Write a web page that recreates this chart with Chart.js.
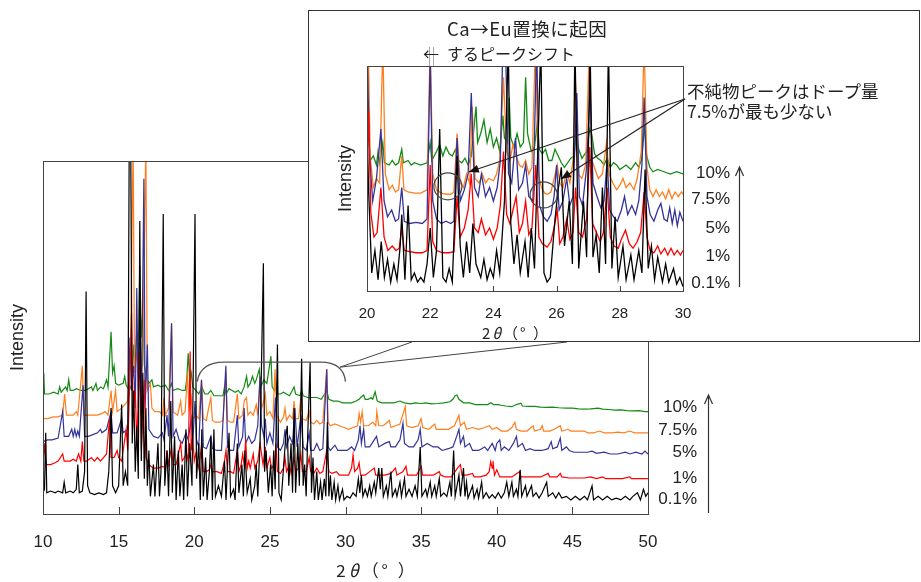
<!DOCTYPE html>
<html>
<head>
<meta charset="utf-8">
<script src="https://cdn.jsdelivr.net/npm/chart.js@4.4.1/dist/chart.umd.min.js"></script>
<style>
body { margin: 0; background: #fff; width: 921px; height: 582px; overflow: hidden; position: relative;
       font-family: "Liberation Sans", Arial, sans-serif; color: #222; }
canvas { position: absolute; }
#main { left: 0; top: 0; }
#inset { left: 308px; top: 10px; }
.t { position: absolute; line-height: 1; white-space: nowrap; transform: translateY(-50%); }
.r { transform: translate(-100%, -50%); }
.c { transform: translate(-50%, -50%); }
.jp { font-family: "Noto Sans CJK JP", sans-serif; }
.pct { font-size: 17px; }
</style>
</head>
<body>
<canvas id="main" width="921" height="582"></canvas>
<canvas id="inset" width="612" height="332"></canvas>

<div class="t jp" style="left:447px;top:28px;font-size:18.5px;letter-spacing:0.5px">Ca→Eu置換に起因</div>
<div class="t jp" style="left:423px;top:53px;font-size:16px">←</div>
<div class="t jp" style="left:447px;top:53px;font-size:16px">するピークシフト</div>
<div class="t jp" style="left:687px;top:91px;font-size:17.5px">不純物ピークはドープ量</div>
<div class="t jp" style="left:687px;top:111px;font-size:17.5px">7.5%が最も少ない</div>

<div class="t r pct" style="left:730px;top:172px">10%</div>
<div class="t r pct" style="left:730px;top:198px">7.5%</div>
<div class="t r pct" style="left:730px;top:227px">5%</div>
<div class="t r pct" style="left:730px;top:255px">1%</div>
<div class="t r pct" style="left:730px;top:282px">0.1%</div>

<div class="t r pct" style="left:697px;top:406px">10%</div>
<div class="t r pct" style="left:697px;top:429px">7.5%</div>
<div class="t r pct" style="left:697px;top:451px">5%</div>
<div class="t r pct" style="left:697px;top:477px">1%</div>
<div class="t r pct" style="left:697px;top:498px">0.1%</div>

<div class="t c jp" style="left:516px;top:332px;font-size:15px;letter-spacing:2px">2<i>θ</i>（°&nbsp;）</div>
<div class="t c jp" style="left:377px;top:569px;font-size:17px;letter-spacing:3px">2<i>θ</i>（°&nbsp;）</div>

<script>
// Eu dope amount of each pattern, drawn bottom to top
const dopeLabels = ['0.1%', '1%', '5%', '7.5%', '10%'];
const seriesColors = ['#000000', '#ff0000', '#333399', '#ff7f1e', '#138a13'];

// full range 10-50 deg, [2theta, intensity (offset, arbitrary)]
const mainBlack = [[10.0,6],[10.1,7],[10.18,23],[10.25,6],[10.5,6.5],[10.8,6],[11.0,6.5],[11.3,6],[11.4,9],[11.5,6],[11.8,6.5],[12.0,6],[12.2,7],[12.3,14],[12.4,6],[12.6,6.5],[12.75,12],[12.85,63],[12.95,8],[13.1,6],[13.4,5.5],[13.7,6],[14.0,5.5],[14.2,6],[14.35,12],[14.5,30],[14.6,8],[14.8,6],[15.0,8],[15.2,31],[15.3,8],[15.45,12],[15.6,8],[15.7,105],[15.8,106],[15.9,20],[16.0,35],[16.1,12],[16.2,25],[16.3,10],[16.4,83],[16.5,15],[16.6,40],[16.7,10],[16.8,30],[16.9,8],[17.0,18],[17.1,5],[17.3,14],[17.4,5],[17.6,20],[17.7,5],[17.8,12],[17.95,85],[18.05,8],[18.2,18],[18.3,5],[18.45,32],[18.55,6],[18.7,22],[18.8,4],[18.95,18],[19.05,5],[19.2,14],[19.3,4],[19.45,24],[19.55,5],[19.7,20],[19.85,8],[20.05,85],[20.15,10],[20.3,20],[20.4,4],[20.5,24],[20.6,5],[20.75,16],[20.85,4],[21.0,12],[21.1,22],[21.2,4],[21.3,24],[21.4,5],[21.6,8],[21.8,5],[21.9,10],[22.0,15],[22.1,4],[22.3,23],[22.4,5],[22.6,7],[22.7,4],[22.85,20],[22.95,6],[23.15,14],[23.25,5],[23.35,18],[23.5,6],[23.7,10],[23.8,4],[24.0,8],[24.1,14],[24.2,5],[24.35,20],[24.57,71],[24.65,12],[24.75,18],[24.9,6],[25.05,14],[25.15,5],[25.25,18],[25.35,7],[25.5,48],[25.6,6],[25.75,4],[25.95,16],[26.05,22],[26.15,25],[26.25,8],[26.4,20],[26.5,6],[26.6,30],[26.7,6],[26.85,20],[26.95,8],[27.1,44],[27.2,8],[27.3,14],[27.4,5],[27.5,22],[27.66,43],[27.75,6],[27.85,16],[27.95,4],[28.1,12],[28.2,4],[28.35,9],[28.45,4],[28.6,10],[28.7,5],[28.8,26],[28.9,5],[29.0,11],[29.1,4],[29.25,9],[29.35,4],[29.5,8],[29.6,4],[29.8,7],[29.9,4],[30.1,5],[30.3,4.5],[30.5,6],[30.7,5],[30.85,10],[30.95,6],[31.05,11],[31.15,5],[31.3,7],[31.45,5],[31.6,8],[31.7,5],[31.9,9],[32.0,6],[32.2,13],[32.3,7],[32.4,13],[32.5,5],[32.7,8],[32.8,5],[33.0,12],[33.1,5],[33.3,7],[33.4,5],[33.6,9],[33.7,5],[33.9,10],[34.0,5],[34.2,7],[34.4,5],[34.6,8],[34.75,5],[34.94,19],[35.05,5],[35.3,7],[35.4,5],[35.6,9],[35.7,5],[35.9,8],[36.0,5],[36.2,10],[36.3,5],[36.5,6],[36.7,5],[36.9,9],[37.0,5],[37.15,18],[37.25,5],[37.5,11],[37.6,5],[37.8,13],[37.9,5],[38.0,9],[38.1,4.5],[38.4,8],[38.5,4.5],[38.7,7],[38.8,4.5],[39.0,9],[39.1,4.5],[39.3,6],[39.5,4.5],[39.7,5.5],[39.9,4.5],[40.1,6],[40.3,4.5],[40.5,6],[40.66,9],[40.8,5],[41.0,9],[41.1,5],[41.3,7],[41.4,5],[41.55,12.5],[41.65,5],[41.9,8],[42.0,5],[42.3,8],[42.4,5],[42.6,6],[42.8,4.5],[43.0,6],[43.3,9],[43.4,5],[43.7,6],[43.9,4.5],[44.1,6],[44.3,4.5],[44.6,5],[44.9,4],[45.2,5],[45.5,4],[45.8,5],[46.0,4],[46.3,8],[46.4,4],[46.7,5],[47.0,4],[47.3,5],[47.6,4],[47.9,4.5],[48.2,4],[48.5,5],[48.8,4],[49.0,5],[49.3,6],[49.5,4],[49.7,7],[49.85,5],[50.0,6]];
const mainRed = [[10.0,14],[10.1,20],[10.2,14],[10.5,14],[10.8,14.5],[11.0,15],[11.3,17],[11.4,15],[11.6,15],[11.8,15],[12.0,15.5],[12.2,15],[12.35,17],[12.5,15],[12.6,20.5],[12.7,15],[12.9,15],[13.2,16],[13.4,15],[13.6,16],[13.8,15],[14.0,16],[14.2,17],[14.4,27],[14.5,16],[14.7,16],[14.9,18],[15.0,16],[15.2,15],[15.5,24],[15.6,18],[15.75,40],[15.85,57],[15.95,30],[16.1,35],[16.2,20],[16.4,46],[16.5,18],[16.7,38],[16.8,16],[17.0,14],[17.3,13],[17.6,13],[17.9,13.5],[18.1,13],[18.2,18],[18.3,14],[18.5,19],[18.6,14],[18.8,14],[19.1,20],[19.2,15],[19.5,17],[19.6,15],[19.73,46],[19.8,18],[19.9,22],[20.0,15],[20.1,17],[20.3,13],[20.5,20],[20.6,12],[20.8,12],[21.0,12.5],[21.1,14],[21.2,12],[21.5,12],[21.8,11.5],[22.0,15],[22.1,18],[22.2,12],[22.4,12],[22.6,11.5],[22.85,18],[22.95,12],[23.1,14],[23.2,17],[23.3,14],[23.4,21],[23.5,13],[23.6,15],[23.7,13],[23.9,17],[24.0,13],[24.2,15],[24.35,20],[24.45,17],[24.55,14],[24.7,19],[24.8,13],[25.0,16],[25.1,13],[25.3,14],[25.4,20],[25.5,12],[25.7,11.5],[25.9,13],[26.0,16],[26.1,12],[26.3,14],[26.4,11.5],[26.6,16],[26.7,12],[26.9,13],[27.05,17],[27.15,12],[27.4,12],[27.6,16],[27.7,12],[27.9,11.5],[28.1,13],[28.3,11.5],[28.5,12],[28.76,18],[28.9,12],[29.1,11.5],[29.4,12],[29.6,11],[29.9,11],[30.2,11],[30.4,13],[30.5,16.7],[30.6,12],[30.8,13],[30.9,14.5],[31.0,11],[31.3,11],[31.6,12],[31.9,13],[32.0,11],[32.3,11],[32.6,11],[33.0,11.5],[33.3,13],[33.4,11],[33.8,12],[34.0,13.5],[34.1,11],[34.4,11],[34.7,11],[35.0,13.5],[35.1,11],[35.4,11],[35.8,11],[36.2,12],[36.3,11],[36.6,10.5],[37.0,10.5],[37.4,13],[37.6,14],[37.7,11],[38.0,11],[38.4,11.5],[38.5,10.5],[38.9,10.5],[39.3,11],[39.5,12],[39.6,14.8],[39.7,13],[39.75,15],[39.85,11],[40.0,12.5],[40.2,10.5],[40.6,10.5],[41.0,10.5],[41.5,12],[41.6,10.5],[42.0,10.5],[42.4,10.5],[42.9,10.5],[43.4,11.5],[43.5,10.5],[44.0,10.5],[44.2,11.5],[44.3,10.5],[44.8,10.2],[45.3,10.2],[45.8,10.2],[46.2,10.5],[46.6,10],[47.0,10.5],[47.2,10],[47.7,10],[48.3,10],[48.8,10.5],[48.9,10],[49.4,10],[49.8,10],[50.0,10]];
const mainBlue = [[10.0,20.5],[10.3,21],[10.6,21],[11.0,21.5],[11.3,29],[11.4,22],[11.7,22],[11.9,24],[12.0,22],[12.1,24],[12.2,22],[12.3,23.5],[12.4,22],[12.65,36.5],[12.75,22],[13.0,22],[13.3,22.5],[13.6,23],[13.8,24],[13.9,23],[14.2,24],[14.5,29],[14.6,23],[14.9,23],[15.2,27],[15.3,23],[15.6,24],[15.75,50],[15.85,35],[16.0,42],[16.1,30],[16.2,64],[16.3,30],[16.4,62],[16.5,28],[16.67,95],[16.75,30],[16.9,48],[17.0,24],[17.3,22],[17.6,21.5],[17.9,23],[18.0,21],[18.2,28],[18.3,22],[18.5,54],[18.6,22],[18.8,24],[19.0,21],[19.2,20],[19.45,23],[19.6,21],[19.8,27],[19.9,20],[20.05,32],[20.15,21],[20.3,19],[20.48,38],[20.6,19],[20.8,18.5],[21.1,22],[21.2,18.5],[21.5,18],[21.8,18],[22.09,42],[22.2,19],[22.4,18],[22.6,18],[22.85,28],[22.95,19],[23.2,22],[23.3,30],[23.4,20],[23.6,22],[23.8,20],[24.0,21],[24.2,25],[24.35,39],[24.45,25],[24.6,22],[24.7,27],[24.8,20],[25.0,23],[25.2,20],[25.37,33],[25.5,19],[25.7,18],[25.9,20],[26.0,24],[26.1,19],[26.3,22],[26.5,20],[26.65,30],[26.8,19],[27.06,28],[27.2,19],[27.4,18],[27.6,23],[27.7,18],[27.9,18],[28.1,20],[28.3,18],[28.5,18.5],[28.76,41],[28.85,19],[29.0,18],[29.3,19.5],[29.5,18],[29.8,18],[30.1,18],[30.4,19],[30.6,18],[30.85,21],[30.96,25],[31.05,20],[31.2,24],[31.3,19],[31.6,19],[31.9,21],[32.05,22],[32.2,19],[32.6,20],[32.9,20.5],[33.0,19],[33.3,19],[33.6,21],[33.8,25.7],[33.9,20],[34.2,19],[34.5,19],[34.8,21],[34.94,24],[35.05,19],[35.4,20],[35.8,19],[36.1,19],[36.4,18],[36.8,18.5],[37.1,19],[37.35,22],[37.5,24],[37.6,20],[37.8,22],[37.9,19],[38.2,20],[38.4,18],[38.8,18],[39.2,19],[39.4,18],[39.7,20],[39.9,18],[40.0,20],[40.2,21],[40.3,18],[40.5,19],[40.8,18],[41.1,20],[41.3,22],[41.4,19],[41.7,20],[41.9,18],[42.2,18.5],[42.5,18],[43.0,18],[43.4,18.5],[43.6,20.5],[43.7,18.5],[44.0,19],[44.2,21.5],[44.3,18],[44.6,19],[44.8,18],[45.1,17.5],[45.6,17.5],[46.0,17.5],[46.3,17.8],[46.6,17.2],[47.1,17.5],[47.5,17],[48.0,17],[48.5,17.5],[48.8,17],[49.2,17.5],[49.6,17],[49.8,17.8],[50.0,17]];
const mainOrange = [[10.0,27],[10.3,27],[10.7,27.5],[11.0,27.5],[11.3,28],[11.43,34],[11.55,28],[11.8,28],[12.0,28],[12.2,29],[12.3,28],[12.6,42],[12.7,28],[13.0,28],[13.3,28],[13.6,28],[13.9,28.5],[14.1,29],[14.3,28],[14.5,35],[14.6,29],[14.8,35],[14.9,29],[15.2,30],[15.4,31],[15.6,32],[15.8,50],[15.96,106],[16.05,40],[16.2,46],[16.3,35],[16.4,62],[16.5,36],[16.6,45],[16.8,106],[16.9,35],[17.1,37],[17.2,30],[17.4,29],[17.7,29],[17.9,28],[18.0,33],[18.1,28],[18.3,30],[18.5,54],[18.6,29],[18.9,28],[19.1,32],[19.2,28],[19.4,29],[19.55,40],[19.65,30],[19.8,33],[19.9,27],[20.1,28],[20.3,27],[20.48,38],[20.6,27],[20.8,26.5],[20.95,30],[21.1,33],[21.2,26.5],[21.4,26],[21.7,26],[21.9,26.5],[22.09,40],[22.2,26.5],[22.4,26],[22.6,26],[22.85,34],[22.95,27],[23.2,28],[23.3,32],[23.45,33],[23.55,28],[23.7,29],[23.9,28],[24.1,31],[24.2,28],[24.35,39],[24.45,30],[24.6,32],[24.7,34],[24.8,28],[25.0,29],[25.2,27],[25.34,41],[25.45,28],[25.7,26],[25.9,27.5],[26.0,30],[26.1,26.5],[26.3,28],[26.5,27],[26.6,32],[26.7,27],[26.9,27],[27.06,33.5],[27.15,27],[27.4,26.5],[27.6,29],[27.7,26],[27.9,25.5],[28.1,26.5],[28.3,25.5],[28.5,26],[28.76,41],[28.85,26],[29.0,25],[29.3,25.5],[29.6,25],[29.9,24.5],[30.2,24],[30.5,24.5],[30.8,25],[30.9,28.5],[31.0,26],[31.1,29],[31.2,25],[31.5,25],[31.8,26],[32.0,25],[32.07,29],[32.2,25],[32.5,25],[32.9,26.5],[33.0,24.5],[33.3,25],[33.6,25.5],[33.95,30.4],[34.05,25],[34.4,24.5],[34.8,25],[35.0,27],[35.1,24.5],[35.5,24],[35.9,25.5],[36.0,24],[36.4,24],[36.8,24],[37.2,25],[37.5,28],[37.6,25],[37.85,26],[38.0,24],[38.4,24.5],[38.8,24],[39.2,24.5],[39.5,25],[39.7,24],[40.0,24.5],[40.3,23.5],[40.7,23.5],[41.0,24.5],[41.2,26],[41.3,24],[41.6,23.5],[42.0,23.5],[42.4,25],[42.5,23.5],[42.9,24],[43.0,25],[43.1,23.5],[43.5,23.5],[43.8,24],[44.2,25],[44.3,23.5],[44.7,24],[44.9,23.5],[45.2,23.5],[45.8,23.5],[46.0,23],[46.4,23],[46.8,23.5],[47.1,23],[47.6,23],[48.0,23.2],[48.4,23],[48.8,23.5],[49.1,23],[49.5,23],[49.9,23],[50.0,23]];
const mainGreen = [[10.0,34],[10.05,40],[10.1,34],[10.4,34],[10.7,34.5],[11.0,34],[11.1,36],[11.2,34.5],[11.5,36],[11.6,35],[11.7,38],[11.8,35],[12.0,35],[12.2,35.5],[12.5,35],[12.8,35],[13.0,35.5],[13.2,36],[13.3,35],[13.5,37],[13.6,35],[13.8,36],[14.0,35.5],[14.2,38],[14.3,36],[14.5,51.6],[14.6,40],[14.7,42],[14.8,37],[15.0,36.5],[15.3,37],[15.4,39],[15.5,36.5],[15.7,35],[15.9,37],[16.0,48],[16.1,42],[16.2,52],[16.3,45],[16.4,70.5],[16.5,50],[16.6,58],[16.7,42],[16.9,38],[17.0,37],[17.2,38],[17.3,36],[17.6,36.5],[17.8,36],[18.1,36.5],[18.3,35],[18.5,37],[18.6,35],[18.9,35.5],[19.2,35],[19.4,35],[19.5,38],[19.6,45.5],[19.7,38],[19.8,40],[19.9,36],[20.1,35],[20.3,34],[20.5,36],[20.7,34],[20.9,34],[21.1,35],[21.3,33.5],[21.6,33.5],[21.9,33.5],[22.0,36],[22.1,34],[22.3,35.5],[22.5,35],[22.7,34.5],[22.9,35],[23.1,34],[23.3,36],[23.46,39],[23.55,36],[23.7,37],[23.85,39],[24.0,37],[24.1,38],[24.3,41],[24.4,36],[24.6,38],[24.8,37],[25.07,44.7],[25.15,36],[25.3,35],[25.4,37],[25.5,34],[25.7,34],[25.9,34.5],[26.1,34],[26.3,33.5],[26.6,36],[26.7,34],[27.0,33.5],[27.1,35],[27.2,33.5],[27.5,33],[27.8,33],[28.1,33],[28.4,32.5],[28.76,35],[28.9,32.5],[29.2,32],[29.5,32],[29.8,31.5],[30.1,31.5],[30.4,31.5],[30.7,32],[30.9,32.5],[31.0,33],[31.2,33.7],[31.3,32.5],[31.5,32.5],[31.7,33],[31.8,32.5],[31.96,34.6],[32.1,32],[32.4,31.5],[32.8,31.5],[33.2,31.5],[33.6,32],[33.9,31.5],[34.3,31.2],[34.6,31.5],[35.0,31.3],[35.3,31.5],[35.7,31.2],[36.1,31.3],[36.5,31.5],[36.9,31.8],[37.1,32.5],[37.25,33.5],[37.37,33.7],[37.5,32.5],[37.8,31.5],[38.2,31.5],[38.6,31],[39.0,31],[39.4,31],[39.6,31.5],[39.8,31],[40.1,31],[40.3,30.8],[40.6,30.6],[41.0,30.4],[41.3,31],[41.6,31.4],[41.7,30.6],[42.1,30.5],[42.5,30.5],[42.9,30.3],[43.3,30.2],[43.7,30.3],[44.1,30.1],[44.6,30],[45.0,30],[45.4,29.8],[45.8,29.7],[46.2,29.8],[46.7,30],[47.0,29.7],[47.4,29.6],[47.8,29.4],[48.2,29.5],[48.6,29.3],[49.0,29.2],[49.4,29.3],[49.8,29],[50.0,29]];

// enlarged 20-30 deg, own intensity scale
const insetBlack = [[20.0,75],[20.05,45],[20.15,8],[20.25,18],[20.35,5],[20.45,22],[20.55,6],[20.65,14],[20.75,4],[20.85,12],[20.95,5],[21.05,20],[21.1,34],[21.2,5],[21.3,38],[21.4,5],[21.5,8],[21.6,4],[21.7,6],[21.8,4],[21.9,12],[22.0,28],[22.1,6],[22.2,18],[22.3,72],[22.4,6],[22.5,4],[22.6,10],[22.7,4],[22.85,60],[22.95,20],[23.05,6],[23.15,22],[23.25,8],[23.35,30],[23.45,12],[23.6,6],[23.7,14],[23.8,5],[23.9,10],[24.0,6],[24.1,18],[24.2,8],[24.35,40],[24.47,110],[24.55,30],[24.65,12],[24.75,25],[24.85,8],[25.0,22],[25.1,6],[25.2,28],[25.3,10],[25.5,110],[25.6,8],[25.7,4],[25.8,6],[25.95,32],[26.05,45],[26.15,55],[26.25,20],[26.4,40],[26.5,12],[26.58,110],[26.7,10],[26.85,40],[26.95,15],[27.06,110],[27.15,15],[27.25,25],[27.35,8],[27.45,46],[27.55,12],[27.64,110],[27.75,10],[27.85,33],[27.95,6],[28.1,20],[28.2,5],[28.35,16],[28.45,5],[28.6,18],[28.7,8],[28.8,54],[28.9,10],[29.0,20],[29.1,5],[29.2,15],[29.35,4],[29.45,12],[29.55,4],[29.7,10],[29.8,3],[29.9,6],[30.0,2]];
const insetRed = [[20.0,58],[20.05,80],[20.12,35],[20.22,24],[20.32,26],[20.44,46],[20.54,24],[20.66,18],[20.8,20],[20.92,18],[21.02,19],[21.1,28],[21.18,18],[21.35,17.5],[21.55,17],[21.75,17],[21.9,18],[22.0,56],[22.08,22],[22.2,18],[22.4,17],[22.6,17],[22.75,17.5],[22.85,42],[22.95,24],[23.08,28],[23.2,36],[23.3,52],[23.4,28],[23.52,26],[23.62,32],[23.75,25],[23.88,28],[24.0,23],[24.12,28],[24.22,38],[24.32,62],[24.42,34],[24.52,30],[24.62,36],[24.72,42],[24.82,26],[24.92,30],[25.02,40],[25.12,25],[25.22,28],[25.34,56],[25.44,24],[25.55,21],[25.7,19.5],[25.82,22],[25.92,28],[26.02,36],[26.1,21],[26.2,24],[26.32,32],[26.42,23],[26.52,26],[26.6,46],[26.7,26],[26.82,24],[26.95,32],[27.05,64],[27.14,30],[27.26,26],[27.38,22],[27.48,26],[27.6,46],[27.7,24],[27.82,20],[27.95,19],[28.05,23],[28.18,27],[28.3,21],[28.42,19],[28.55,22],[28.66,26],[28.77,44],[28.86,24],[28.96,18],[29.08,17],[29.2,20],[29.3,16.5],[29.42,19],[29.52,16],[29.62,19],[29.72,16],[29.82,18],[29.92,16],[30.0,18]];
const insetBlue = [[20.0,110],[20.08,60],[20.18,40],[20.3,50],[20.44,72],[20.54,40],[20.65,33],[20.78,36],[20.9,31],[21.0,32],[21.1,46],[21.18,31],[21.35,30],[21.55,30.5],[21.75,30],[21.9,32],[22.0,104],[22.08,40],[22.2,32],[22.35,30],[22.5,31],[22.65,30],[22.75,31],[22.85,68],[22.95,40],[23.08,45],[23.2,52],[23.3,88],[23.4,46],[23.52,42],[23.62,52],[23.75,42],[23.88,46],[24.0,40],[24.12,46],[24.22,58],[24.3,110],[24.38,110],[24.48,52],[24.58,48],[24.7,68],[24.8,45],[24.92,48],[25.02,56],[25.12,42],[25.25,40],[25.37,110],[25.46,38],[25.58,33],[25.7,31],[25.82,34],[25.92,42],[26.0,56],[26.08,36],[26.2,40],[26.32,50],[26.42,38],[26.52,42],[26.64,88],[26.72,42],[26.82,38],[26.95,55],[27.06,90],[27.15,48],[27.28,42],[27.4,37],[27.5,40],[27.6,58],[27.68,36],[27.8,33],[27.92,31],[28.05,36],[28.15,42],[28.25,34],[28.38,38],[28.5,34],[28.6,40],[28.7,56],[28.77,86],[28.86,42],[28.96,34],[29.08,31],[29.2,36],[29.3,39],[29.4,32],[29.5,31],[29.58,37],[29.66,30],[29.74,36],[29.82,29],[29.9,35],[30.0,31]];
const insetOrange = [[20.0,70],[20.04,110],[20.1,60],[20.2,46],[20.3,50],[20.4,48],[20.5,110],[20.58,52],[20.7,45],[20.8,47],[20.9,44],[21.0,45],[21.1,60],[21.17,45],[21.3,44],[21.5,43.5],[21.7,43.5],[21.9,45],[22.0,110],[22.08,52],[22.2,45],[22.35,43.5],[22.5,43],[22.65,43],[22.75,44],[22.85,70],[22.95,48],[23.05,46],[23.15,52],[23.25,48],[23.33,82],[23.42,50],[23.55,48],[23.65,52],[23.75,48],[23.85,50],[24.0,49],[24.1,52],[24.2,58],[24.32,95],[24.42,62],[24.52,58],[24.62,65],[24.72,60],[24.82,56],[24.92,55],[25.02,58],[25.12,52],[25.22,55],[25.33,110],[25.42,52],[25.52,46],[25.62,43.5],[25.72,43],[25.82,44],[25.92,50],[26.02,56],[26.1,48],[26.2,46],[26.32,53],[26.42,48],[26.52,58],[26.6,92],[26.68,52],[26.8,50],[26.92,56],[27.04,110],[27.12,58],[27.22,54],[27.32,50],[27.45,52],[27.58,66],[27.66,52],[27.78,48],[27.9,45],[28.0,47],[28.1,50],[28.2,46],[28.32,48],[28.45,45],[28.55,50],[28.68,62],[28.77,110],[28.86,55],[28.95,45],[29.05,42],[29.15,45],[29.25,42],[29.35,44],[29.45,41],[29.55,45],[29.65,41],[29.75,44],[29.85,42],[29.95,44],[30.0,43]];
const insetGreen = [[20.0,62],[20.05,72],[20.1,58],[20.2,60],[20.3,56],[20.35,62],[20.4,57],[20.5,66],[20.55,57],[20.7,56],[20.8,58],[20.9,56],[21.0,57],[21.1,63],[21.15,57],[21.3,58],[21.4,56],[21.5,57],[21.7,56],[21.9,57],[22.0,66],[22.05,58],[22.2,62],[22.3,65],[22.4,60],[22.5,64],[22.6,61],[22.7,60],[22.8,63],[22.9,58],[23.0,57],[23.1,59],[23.2,56],[23.3,60],[23.45,82],[23.5,66],[23.6,70],[23.7,76],[23.8,66],[23.9,72],[24.0,64],[24.1,68],[24.2,62],[24.3,78],[24.35,68],[24.45,66],[24.5,86],[24.55,68],[24.65,64],[24.75,70],[24.85,64],[24.95,66],[25.02,95],[25.08,70],[25.2,62],[25.3,64],[25.4,76],[25.45,63],[25.55,61],[25.65,63],[25.75,58],[25.85,58],[25.95,63],[26.05,60],[26.15,57],[26.25,55],[26.35,57],[26.45,59],[26.55,60],[26.62,70],[26.7,63],[26.8,59],[26.95,62],[27.05,72],[27.12,69],[27.2,61],[27.3,59],[27.4,58],[27.5,56],[27.6,59],[27.7,55],[27.8,57],[27.9,56],[28.0,54],[28.2,56],[28.35,54],[28.5,57],[28.6,55],[28.7,59],[28.78,74],[28.85,60],[28.95,55],[29.05,53],[29.2,54],[29.4,53],[29.6,52],[29.8,53],[30.0,52]];

const mainTicks = { min: 10, max: 50, step: 5 };
const insetTicks = { min: 20, max: 30, step: 2 };

function makeDatasets(list, width) {
    // list follows dopeLabels; index 0 (0.1%) ends up drawn on top
    return list.map((d, i) => ({
        label: dopeLabels[i],
        data: d,
        borderColor: seriesColors[i],
        borderWidth: width,
        pointRadius: 0,
        tension: 0,
        fill: false
    }));
}

function upArrow(ctx, x, y0, y1) {
    ctx.beginPath();
    ctx.moveTo(x, y0); ctx.lineTo(x, y1);
    ctx.moveTo(x - 4, y1 + 9); ctx.lineTo(x, y1); ctx.lineTo(x + 4, y1 + 9);
    ctx.stroke();
}

function headArrow(ctx, x0, y0, x1, y1) {
    const a = Math.atan2(y1 - y0, x1 - x0);
    ctx.beginPath(); ctx.moveTo(x0, y0); ctx.lineTo(x1, y1); ctx.stroke();
    ctx.beginPath();
    ctx.moveTo(x1, y1);
    ctx.lineTo(x1 - 10 * Math.cos(a) + 4 * Math.sin(a), y1 - 10 * Math.sin(a) - 4 * Math.cos(a));
    ctx.lineTo(x1 - 10 * Math.cos(a) - 4 * Math.sin(a), y1 - 10 * Math.sin(a) + 4 * Math.cos(a));
    ctx.closePath(); ctx.fill();
}

// plot frame + inward tick marks
const framePlugin = {
    id: 'frame',
    afterDatasetsDraw(chart, args, opts) {
        const { ctx, chartArea: a, scales: { x } } = chart;
        ctx.save();
        ctx.strokeStyle = '#444';
        ctx.lineWidth = 1;
        ctx.strokeRect(a.left + 0.5, a.top + 0.5, a.right - a.left, a.bottom - a.top);
        x.ticks.forEach(t => {
            if (t.value <= x.min || t.value >= x.max) return;
            const px = Math.round(x.getPixelForValue(t.value)) + 0.5;
            ctx.beginPath();
            ctx.moveTo(px, a.bottom);
            ctx.lineTo(px, a.bottom - opts.tick);
            ctx.stroke();
        });
        ctx.restore();
    }
};

const calloutPlugin = {
    id: 'callout',
    afterDraw(chart) {
        const { ctx, scales: { x, y } } = chart;
        const xl = x.getPixelForValue(20), xr = x.getPixelForValue(30);
        const yTop = y.getPixelForValue(43), yEnd = y.getPixelForValue(37.5);
        ctx.save();
        ctx.strokeStyle = '#555';
        ctx.lineWidth = 1.3;
        ctx.beginPath();
        ctx.moveTo(xl + 3, yEnd);
        ctx.quadraticCurveTo(xl + 6, yTop, xl + 30, yTop);
        ctx.lineTo(xr - 25, yTop);
        ctx.quadraticCurveTo(xr - 2, yTop, xr, yEnd);
        ctx.stroke();
        const tipX = x.getPixelForValue(29.64), tipY = y.getPixelForValue(41.6);
        ctx.strokeStyle = '#444';
        ctx.lineWidth = 1;
        ctx.beginPath();
        ctx.moveTo(412, 342); ctx.lineTo(tipX, tipY); ctx.lineTo(567, 342);
        ctx.stroke();
        ctx.strokeStyle = '#333';
        ctx.lineWidth = 1.2;
        upArrow(ctx, 708.5, 513, 395);
        ctx.restore();
    }
};

const insetPlugin = {
    id: 'insetDeco',
    beforeDraw(chart) {
        const ctx = chart.ctx;
        ctx.save();
        ctx.fillStyle = '#fff';
        ctx.fillRect(0, 0, chart.width, chart.height);
        ctx.restore();
    },
    afterDraw(chart) {
        const { ctx, scales: { x, y }, chartArea: a } = chart;
        ctx.save();
        ctx.strokeStyle = '#333';
        ctx.lineWidth = 1;
        ctx.strokeRect(0.5, 0.5, chart.width - 1, chart.height - 1);
        // the two shifted peak positions above the frame
        ctx.strokeStyle = '#aaa';
        [21.96, 22.1].forEach(v => {
            const px = Math.round(x.getPixelForValue(v)) + 0.5;
            ctx.beginPath(); ctx.moveTo(px, a.top - 19); ctx.lineTo(px, a.top); ctx.stroke();
        });
        // circles on impurity positions
        ctx.strokeStyle = '#444';
        ctx.lineWidth = 1.2;
        [[22.56, 46.5, 14, 13.5], [25.59, 42.7, 13.5, 13]].forEach(([cx, cy, rx, ry]) => {
            ctx.beginPath();
            ctx.ellipse(x.getPixelForValue(cx), y.getPixelForValue(cy), rx, ry, 0, 0, Math.PI * 2);
            ctx.stroke();
        });
        // arrows from the note
        ctx.strokeStyle = '#222';
        ctx.fillStyle = '#111';
        ctx.lineWidth = 1.2;
        headArrow(ctx, 377, 89, x.getPixelForValue(23.22), y.getPixelForValue(52.9));
        headArrow(ctx, 377, 89, x.getPixelForValue(26.14), y.getPixelForValue(49.8));
        ctx.strokeStyle = '#333';
        upArrow(ctx, 431.5, 277, 157);
        ctx.restore();
    }
};

function axisOptions(t, w, h, tickFont, tickPad, titleFont, titlePad) {
    return {
        x: {
            type: 'linear', min: t.min, max: t.max,
            afterFit: s => { s.height = h; },
            ticks: { stepSize: t.step, padding: tickPad, color: '#222', maxRotation: 0, autoSkip: false,
                     font: { family: 'Liberation Sans', size: tickFont } },
            grid: { display: false },
            border: { display: false }
        },
        y: {
            min: 0, max: 100,
            afterFit: s => { s.width = w; },
            ticks: { display: false },
            grid: { display: false },
            border: { display: false },
            title: { display: true, text: 'Intensity', color: '#222',
                     font: { family: 'Liberation Sans', size: titleFont }, padding: { top: titlePad, bottom: 0 } }
        }
    };
}

new Chart(document.getElementById('main'), {
    type: 'line',
    data: { datasets: makeDatasets([mainBlack, mainRed, mainBlue, mainOrange, mainGreen], 1.2) },
    options: {
        responsive: false,
        animation: false,
        layout: { padding: { left: 0, top: 161, right: 273, bottom: 0 } },
        scales: axisOptions(mainTicks, 43, 68, 17, 10, 18, 7),
        plugins: { legend: { display: false }, tooltip: { enabled: false }, frame: { tick: 7 } }
    },
    plugins: [framePlugin, calloutPlugin]
});

new Chart(document.getElementById('inset'), {
    type: 'line',
    data: { datasets: makeDatasets([insetBlack, insetRed, insetBlue, insetOrange, insetGreen], 1.3) },
    options: {
        responsive: false,
        animation: false,
        layout: { padding: { left: 0, top: 56, right: 237, bottom: 0 } },
        scales: axisOptions(insetTicks, 59, 51, 15, 6, 18, 27),
        plugins: { legend: { display: false }, tooltip: { enabled: false }, frame: { tick: 5 } }
    },
    plugins: [framePlugin, insetPlugin]
});
</script>
</body>
</html>
